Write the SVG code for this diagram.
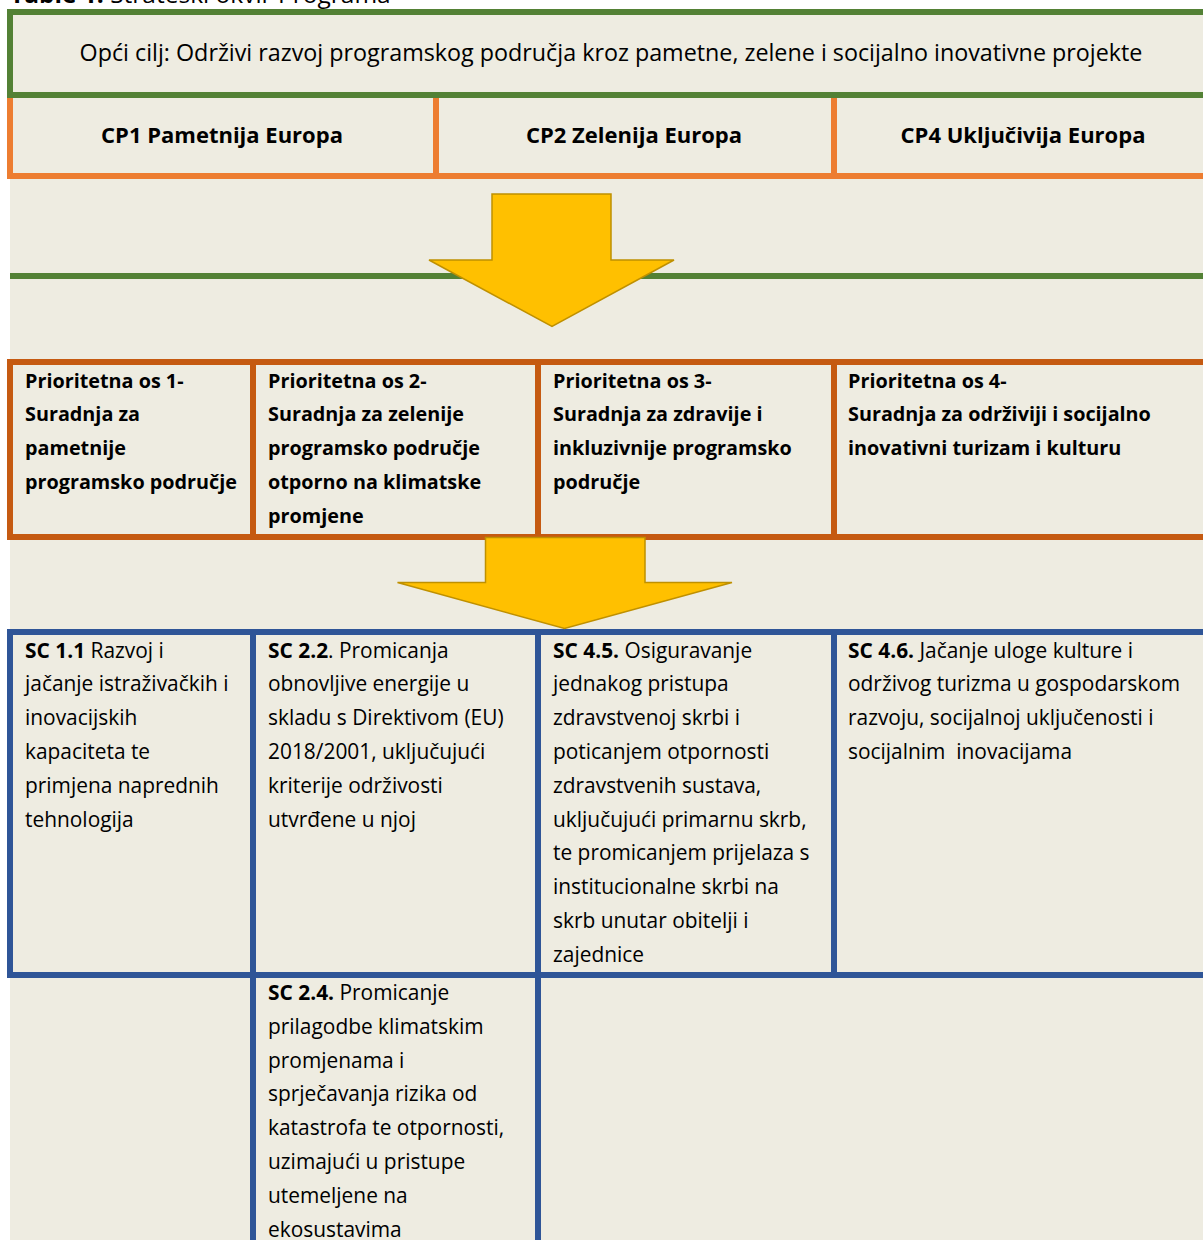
<svg xmlns="http://www.w3.org/2000/svg" width="1203" height="1240" viewBox="0 0 1203 1240">
<style>
text{font-family:"Open Sans","Noto Sans","Liberation Sans",sans-serif;fill:#000;}
.t{font-size:20.9px;white-space:pre;}
.pb{font-size:19.8px;font-weight:bold;}
.cp{font-size:22px;font-weight:bold;text-anchor:middle;}
.goal{font-size:23.3px;text-anchor:middle;}
.b{font-weight:bold;}
.g{fill:#538135;}
.o{fill:#ED7D31;}
.d{fill:#C55A11;}
.u{fill:#2F5597;}
.arrow{fill:#FFC000;stroke:#BF9000;stroke-width:1.5;stroke-linejoin:miter;}
</style>
<rect x="0" y="0" width="1203" height="1240" fill="#FFFFFF"/>
<rect x="10" y="12" width="1193" height="1228" fill="#EEECE1"/>
<text x="10" y="2.5" style="font-size:24.5px"><tspan class="b">Table 1.</tspan> Strateški okvir Programa</text>

<g id="grid">
<rect class="g" x="7" y="9" width="1196" height="6"/>
<rect class="g" x="7" y="9" width="6" height="89"/>
<rect class="g" x="7" y="92" width="1196" height="6"/>
<rect class="o" x="7" y="98" width="6" height="81"/>
<rect class="o" x="7" y="173" width="1196" height="6"/>
<rect class="o" x="433" y="98" width="6" height="81"/>
<rect class="o" x="831" y="98" width="6" height="81"/>
<rect class="g" x="10" y="273" width="1193" height="6"/>
<rect class="d" x="7" y="359" width="1196" height="6"/>
<rect class="d" x="7" y="534" width="1196" height="6"/>
<rect class="d" x="7" y="359" width="6" height="181"/>
<rect class="d" x="250" y="359" width="6" height="181"/>
<rect class="d" x="535" y="359" width="6" height="181"/>
<rect class="d" x="831" y="359" width="6" height="181"/>
<rect class="u" x="7" y="629" width="1196" height="6"/>
<rect class="u" x="7" y="972" width="1196" height="6"/>
<rect class="u" x="7" y="629" width="6" height="349"/>
<rect class="u" x="250" y="629" width="6" height="611"/>
<rect class="u" x="535" y="629" width="6" height="611"/>
<rect class="u" x="831" y="629" width="6" height="349"/>
</g>

<g id="goal"><text class="goal" x="611" y="61">Opći cilj: Održivi razvoj programskog područja kroz pametne, zelene i socijalno inovativne projekte</text></g>
<g id="cp1"><text class="cp" x="222" y="143">CP1 Pametnija Europa</text></g>
<g id="cp2"><text class="cp" x="634" y="143">CP2 Zelenija Europa</text></g>
<g id="cp4"><text class="cp" x="1023" y="143">CP4 Uključivija Europa</text></g>

<g id="po1"><text class="pb" x="25" y="387.5"><tspan x="25">Prioritetna os 1-</tspan><tspan x="25" dy="33.8">Suradnja za</tspan><tspan x="25" dy="33.8">pametnije</tspan><tspan x="25" dy="33.8">programsko područje</tspan></text></g>
<g id="po2"><text class="pb" x="268" y="387.5"><tspan x="268">Prioritetna os 2-</tspan><tspan x="268" dy="33.8">Suradnja za zelenije</tspan><tspan x="268" dy="33.8">programsko područje</tspan><tspan x="268" dy="33.8">otporno na klimatske</tspan><tspan x="268" dy="33.8">promjene</tspan></text></g>
<g id="po3"><text class="pb" x="553" y="387.5"><tspan x="553">Prioritetna os 3-</tspan><tspan x="553" dy="33.8">Suradnja za zdravije i</tspan><tspan x="553" dy="33.8">inkluzivnije programsko</tspan><tspan x="553" dy="33.8">područje</tspan></text></g>
<g id="po4"><text class="pb" x="848" y="387.5"><tspan x="848">Prioritetna os 4-</tspan><tspan x="848" dy="33.8">Suradnja za održiviji i socijalno</tspan><tspan x="848" dy="33.8">inovativni turizam i kulturu</tspan></text></g>

<g id="sc11"><text class="t" x="25" y="657.5"><tspan x="25"><tspan class="b">SC 1.1</tspan> Razvoj i</tspan><tspan x="25" dy="33.8">jačanje istraživačkih i</tspan><tspan x="25" dy="33.8">inovacijskih</tspan><tspan x="25" dy="33.8">kapaciteta te</tspan><tspan x="25" dy="33.8">primjena naprednih</tspan><tspan x="25" dy="33.8">tehnologija</tspan></text></g>
<g id="sc22"><text class="t" x="268" y="657.5"><tspan x="268"><tspan class="b">SC 2.2</tspan>. Promicanja</tspan><tspan x="268" dy="33.8">obnovljive energije u</tspan><tspan x="268" dy="33.8">skladu s Direktivom (EU)</tspan><tspan x="268" dy="33.8">2018/2001, uključujući</tspan><tspan x="268" dy="33.8">kriterije održivosti</tspan><tspan x="268" dy="33.8">utvrđene u njoj</tspan></text></g>
<g id="sc45"><text class="t" x="553" y="657.5"><tspan x="553"><tspan class="b">SC 4.5.</tspan> Osiguravanje</tspan><tspan x="553" dy="33.8">jednakog pristupa</tspan><tspan x="553" dy="33.8">zdravstvenoj skrbi i</tspan><tspan x="553" dy="33.8">poticanjem otpornosti</tspan><tspan x="553" dy="33.8">zdravstvenih sustava,</tspan><tspan x="553" dy="33.8">uključujući primarnu skrb,</tspan><tspan x="553" dy="33.8">te promicanjem prijelaza s</tspan><tspan x="553" dy="33.8">institucionalne skrbi na</tspan><tspan x="553" dy="33.8">skrb unutar obitelji i</tspan><tspan x="553" dy="33.8">zajednice</tspan></text></g>
<g id="sc46"><text class="t" x="848" y="657.5"><tspan x="848"><tspan class="b">SC 4.6.</tspan> Jačanje uloge kulture i</tspan><tspan x="848" dy="33.8">održivog turizma u gospodarskom</tspan><tspan x="848" dy="33.8">razvoju, socijalnoj uključenosti i</tspan><tspan x="848" dy="33.8">socijalnim  inovacijama</tspan></text></g>
<g id="sc24"><text class="t" x="268" y="1000"><tspan x="268"><tspan class="b">SC 2.4.</tspan> Promicanje</tspan><tspan x="268" dy="33.8">prilagodbe klimatskim</tspan><tspan x="268" dy="33.8">promjenama i</tspan><tspan x="268" dy="33.8">sprječavanja rizika od</tspan><tspan x="268" dy="33.8">katastrofa te otpornosti,</tspan><tspan x="268" dy="33.8">uzimajući u pristupe</tspan><tspan x="268" dy="33.8">utemeljene na</tspan><tspan x="268" dy="33.8">ekosustavima</tspan></text></g>

<g id="connectors">
<polygon class="arrow" points="492,194 611,194 611,260 674,260 552,326.5 429,260 492,260"/>
<polygon class="arrow" points="485.5,537.5 645,537.5 645,582.5 732,582.5 564.5,628.5 397.5,582.5 485.5,582.5"/>
</g>
</svg>
